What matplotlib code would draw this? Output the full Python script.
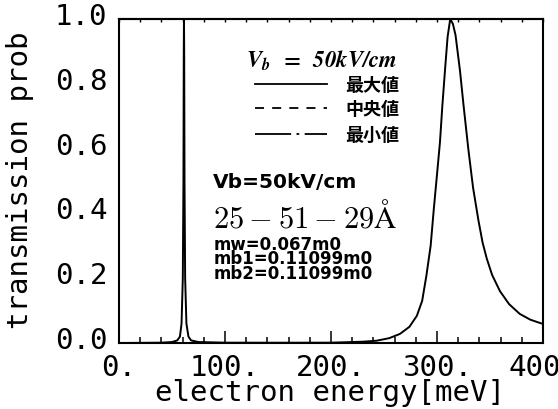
import matplotlib
matplotlib.use('Agg')
import matplotlib.pyplot as plt
from matplotlib.lines import Line2D
from matplotlib.ticker import MultipleLocator
import matplotlib.transforms as mtransforms

plt.rcParams['mathtext.fontset'] = 'cm'

# transmission curve (meV, probability)
energy = [0, 20, 40, 50, 55, 57.5, 59, 60.2, 60.8, 61.1, 61.3, 61.5, 61.8, 62.4,
          63.6, 65.5, 68, 75, 100, 150, 200, 230, 243, 255, 265, 274, 281, 286,
          290, 294, 297, 300, 302.8, 305, 307.5, 310, 312.5, 315, 317.5, 321.7,
          325, 329.5, 334, 339, 343, 347, 352, 359.4, 368, 378, 388, 397, 400]
trans = [0.0, 0.0005, 0.001, 0.003, 0.008, 0.02, 0.06, 0.2, 0.5, 0.9, 1.0, 0.9,
         0.5, 0.2, 0.06, 0.02, 0.008, 0.003, 0.001, 0.0008, 0.001, 0.004,
         0.007, 0.015, 0.028, 0.05, 0.084, 0.13, 0.208, 0.3, 0.414, 0.52, 0.62,
         0.73, 0.84, 0.945, 1.0, 0.985, 0.95, 0.84, 0.735, 0.6, 0.48, 0.38,
         0.31, 0.26, 0.21, 0.16, 0.12, 0.09, 0.072, 0.062, 0.059]

xticks = [0, 100, 200, 300, 400]
xticklabels = ['0.', '100.', '200.', '300.', '400.']
yticks = [0.0, 0.2, 0.4, 0.6, 0.8, 1.0]
yticklabels = ['0.0', '0.2', '0.4', '0.6', '0.8', '1.0']

legend_title = r'$\mathbfit{V_b}\;\;\mathbf{=}\;\;\mathbfit{50kV/cm}$'
legend_labels = ['最大値', '中央値', '最小値']
info_lines = ['mw=0.067m0', 'mb1=0.11099m0', 'mb2=0.11099m0']

fig = plt.figure(figsize=(5.58, 4.10), dpi=100)
ax = fig.add_axes([119/558, 66/410, 424/558, 324/410])

ax.plot(energy, trans, color='black', lw=1.4)
ax.set_xlim(0, 400)
ax.set_ylim(0, 1.0)

mono = 'DejaVu Sans Mono'
ax.set_xticks(xticks)
ax.set_xticklabels(xticklabels, family=mono, fontsize=21)
ax.xaxis.set_minor_locator(MultipleLocator(20))
ax.set_yticks(yticks)
ax.set_yticklabels(yticklabels, family=mono, fontsize=21)
ax.tick_params(axis='x', which='major', direction='in', length=8.5, width=1.1, pad=7)
ax.tick_params(axis='x', which='minor', direction='in', length=4.3, width=1.1)
ax.tick_params(axis='y', length=0, pad=8.5)
for lab in ax.get_yticklabels():
    lab.set_transform(lab.get_transform() + mtransforms.ScaledTranslation(0, 6/100, fig.dpi_scale_trans))

top = ax.secondary_xaxis('top')
top.set_xticks(xticks)
top.xaxis.set_minor_locator(MultipleLocator(20))
top.tick_params(which='both', direction='in', length=2.5, width=1, labeltop=False)
top.spines['top'].set_linewidth(1.5)

for s in ax.spines.values():
    s.set_linewidth(1.5)

ax.set_xlabel('electron energy[meV]', family=mono, fontsize=21)
ax.xaxis.set_label_coords(0.498, (344-401)/324)
ax.xaxis.label.set_va('baseline')
ax.set_ylabel('transmission prob', family=mono, fontsize=21)
ax.yaxis.set_label_coords((20-119)/424, (344-180)/324)
ax.yaxis.label.set_va('center')

# hand-drawn legend block
ax.text(0.300, 0.852, legend_title, transform=ax.transAxes, fontsize=16.5,
        va='baseline', math_fontfamily='stix')
styles = ['-', (0, (5, 4.5)), (0, (20, 3, 1.5, 3))]
ys = [0.799, 0.725, 0.645]
for st, yy, lab in zip(styles, ys, legend_labels):
    ax.add_line(Line2D([0.321, 0.491], [yy, yy], transform=ax.transAxes,
                       color='black', lw=1.3, linestyle=st))
    ax.text(0.533, yy, lab, transform=ax.transAxes, fontsize=13, va='center',
            family='Noto Sans CJK JP', fontweight='bold')

ax.text(0.222, 0.481, 'Vb=50kV/cm', transform=ax.transAxes, fontsize=14.5,
        fontweight='bold', va='baseline')
ax.text(0.222, 0.361, r'$25-51-29\mathrm{\AA}$', transform=ax.transAxes,
        fontsize=22, va='baseline')
for i, t in enumerate(info_lines):
    ax.text(0.222, (344-250-14.5*i)/324, t, transform=ax.transAxes, fontsize=12,
            fontweight='bold', va='baseline')

fig.savefig('out.png', dpi=100)
